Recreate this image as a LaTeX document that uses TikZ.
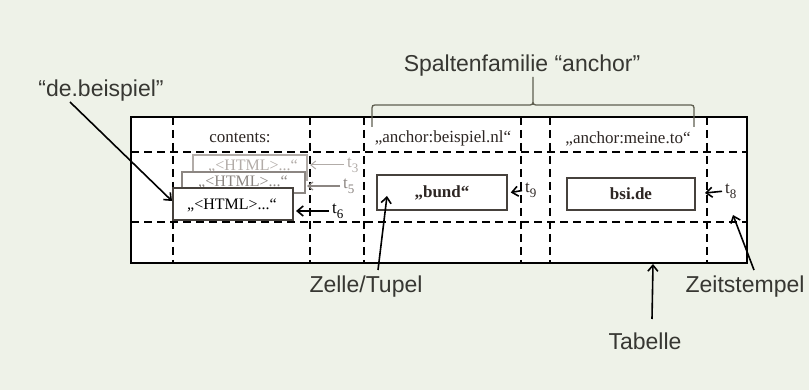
\documentclass[tikz,border=0pt]{standalone}
\usepackage{fontspec}
\setmainfont{Liberation Serif}
\newfontfamily\lblfont{Liberation Sans}
\usetikzlibrary{arrows.meta}
\definecolor{bgc}{RGB}{238,242,232}
\definecolor{lblc}{RGB}{55,55,50}
\definecolor{txtc}{RGB}{45,38,35}
\definecolor{boxc}{RGB}{70,65,60}
\definecolor{bracec}{RGB}{95,95,80}
\definecolor{gA}{RGB}{178,172,168}
\definecolor{gB}{RGB}{140,134,130}
\newcommand{\myTsub}[1]{t\raisebox{-0.3em}{\fontsize{13}{13}\selectfont #1}}
\tikzset{
  lbl/.style={font=\lblfont\fontsize{23}{23}\selectfont, text=lblc, inner sep=0pt, anchor=base},
  ser/.style={font=\fontsize{17}{17}\selectfont, text=txtc, inner sep=0pt},
  cellbox/.style={draw=boxc, line width=1.5pt, fill=white, inner sep=0pt, font=\fontsize{17}{17}\selectfont, text=txtc},
  htmltext/.style={font=\fontsize{16}{16}\selectfont, inner sep=0pt},
  ptr/.style={-{Straight Barb[length=6pt,width=10pt]}, line width=1.6pt},
  hdash/.style={dash pattern=on 8pt off 5pt, line width=1.8pt},
  vdash/.style={dash pattern=on 8pt off 5pt, line width=1.8pt},
}
\begin{document}
\begin{tikzpicture}[x=1pt,y=-1pt]
\fill[bgc] (0,0) rectangle (809,390);
\useasboundingbox (0,0) rectangle (809,390);

% table
\node[draw, line width=2pt, fill=white, minimum width=616pt, minimum height=146pt, inner sep=0pt] (tab) at (439,190) {};
\draw[hdash] (131,152) -- (747,152);
\draw[hdash] (131,222) -- (747,222);
\foreach \x in {173,310,364,521,550,707}
  \draw[vdash] (\x,117) -- (\x,263);

% headers
\node[ser] (hc) at (240,138) {contents:};
\node[ser] (ha) at (443,138) {„anchor:beispiel.nl“};
\node[ser] (hm) at (628,139) {„anchor:meine.to“};

% contents versions
\node[cellbox, draw=gA, line width=1.2pt, minimum width=114pt, minimum height=25pt] (h3) at (250,167.5) {};
\node[htmltext, text=gA] (h3t) at (253,166) {„<HTML>...“};
\node[cellbox, draw=gB, line width=1.3pt, minimum width=123pt, minimum height=21pt] (h5) at (243.5,182.5) {};
\node[htmltext, text=gB] (h5t) at (243,182.5) {„<HTML>...“};
\node[cellbox, draw=boxc, minimum width=120pt, minimum height=32pt] (h6) at (233,204) {};
\node[htmltext, text=black] (h6t) at (232,205) {„<HTML>...“};

\node[cellbox, minimum width=130pt, minimum height=35pt, font=\bfseries\fontsize{17}{17}\selectfont] (bund) at (442,192.5) {„bund“};
\node[cellbox, minimum width=128pt, minimum height=32pt, font=\bfseries\fontsize{17}{17}\selectfont] (bsi) at (631,194) {bsi.de};

% timestamps
\node[ser, text=gA, anchor=west] (t3) at (347,165) {\myTsub{3}};
\node[ser, text=gB, anchor=west] (t5) at (343,186) {\myTsub{5}};
\node[ser, text=black, anchor=west] (t6) at (332,211) {\myTsub{6}};
\node[ser, anchor=west] (t9) at (525,190) {\myTsub{9}};
\node[ser, anchor=west] (t8) at (725,191) {\myTsub{8}};

\draw[-{Straight Barb[length=5pt,width=8pt]}, line width=1pt, draw=gA, shorten <=3pt] (t3.west) -- (310,165);
\draw[-{Straight Barb[length=5pt,width=8pt]}, line width=1.2pt, draw=gB, shorten <=3pt] (t5.west) -- (307,186);
\draw[ptr, shorten <=3pt] (t6.west) -- (296,211);
\draw[ptr, shorten <=3pt] (t9.west) -- ([xshift=3pt]bund.east);
\draw[ptr, shorten <=3pt] (t8.west) -- (705,193);

% brace
\draw[bracec, line width=1.3pt] (372,127) -- (372,111) .. controls (372,105) .. (378,105)
  -- (527,105) .. controls (533,105) .. (533,99) -- (533,77) -- (533,99)
  .. controls (533,105) .. (539,105) -- (688,105) .. controls (694,105) .. (694,111) -- (694,127);

% labels
\node[lbl] (spalt) at (522,72) {Spaltenfamilie “anchor”};
\node[lbl] (deb) at (101,97) {“de.beispiel”};
\node[lbl] (zelle) at (366,292) {Zelle/Tupel};
\node[lbl] (zeit) at (745,293) {Zeitstempel};
\node[lbl] (tabl) at (645,349) {Tabelle};

\coordinate (debS) at (70,102);
\coordinate (debE) at (172,201);
\coordinate (zelleS) at (378,270);
\coordinate (zelleE) at (387,196);
\coordinate (tablS) at (652,319);
\coordinate (tablE) at (653,264);
\coordinate (zeitS) at (754,270);
\coordinate (zeitE) at (733,215);

\draw[ptr] (debS) -- (debE);
\draw[ptr] (zelleS) -- (zelleE);
\draw[ptr] (tablS) -- (tablE);
\draw[ptr] (zeitS) -- (zeitE);
\end{tikzpicture}
\end{document}
